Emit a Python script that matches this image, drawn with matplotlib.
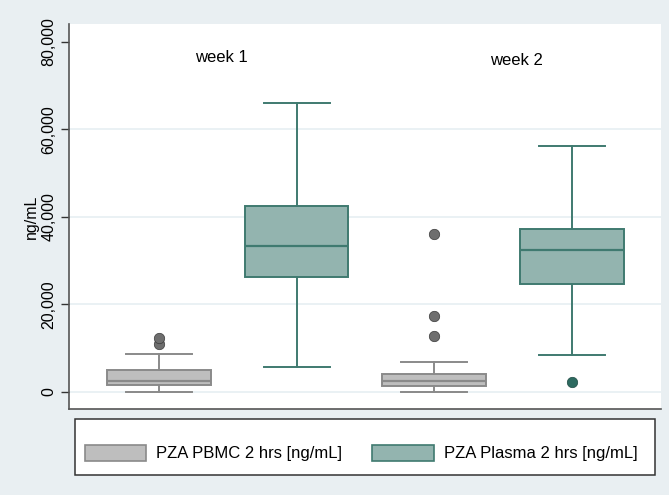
import matplotlib
matplotlib.use("Agg")
import matplotlib.pyplot as plt
from matplotlib.patches import Patch, Rectangle

plt.rcParams['font.family'] = ['Liberation Sans', 'DejaVu Sans']

# Data (ng/mL)
groups = ["week 1", "week 2"]
series = ["PZA PBMC 2 hrs [ng/mL]", "PZA Plasma 2 hrs [ng/mL]"]
# order: week1 PBMC, week1 Plasma, week2 PBMC, week2 Plasma
whislo = [0, 5570, 0, 8320]
q1 = [1450, 26300, 1400, 24550]
med = [2450, 33300, 2500, 32400]
q3 = [5050, 42450, 4050, 37260]
whishi = [8650, 65900, 6800, 56230]
fliers = [[10800, 12350], [], [12800, 17400, 35970], [2220]]
y_ticks = [0, 20000, 40000, 60000, 80000]
y_ticklabels = ["0", "20,000", "40,000", "60,000", "80,000"]

bg = "#E9EFF2"
pbmc_fill, pbmc_edge = "#BEBEBE", "#8A8A8A"
plas_fill, plas_edge = "#93B4AF", "#3F7A70"
pbmc_out, plas_out = "#6E6E6E", "#2D6A60"

fig = plt.figure(figsize=(6.69, 4.95), dpi=100)
fig.patch.set_facecolor(bg)
ax = fig.add_axes([69 / 669, 1 - 409 / 495, (661 - 69) / 669, (409 - 24) / 495])
ax.set_facecolor("white")

positions = [1, 2, 3, 4]
stats = []
for i in range(4):
    stats.append(dict(whislo=whislo[i], q1=q1[i], med=med[i], q3=q3[i],
                      whishi=whishi[i], fliers=fliers[i]))

for i, st in enumerate(stats):
    is_plasma = (i % 2 == 1)
    fc = plas_fill if is_plasma else pbmc_fill
    ec = plas_edge if is_plasma else pbmc_edge
    oc = plas_out if is_plasma else pbmc_out
    ax.bxp([st], positions=[positions[i]], widths=0.755, patch_artist=True,
           showfliers=True,
           boxprops=dict(facecolor=fc, edgecolor=ec, linewidth=1.4),
           medianprops=dict(color=ec, linewidth=1.6),
           whiskerprops=dict(color=ec, linewidth=1.4),
           capprops=dict(color=ec, linewidth=1.4),
           capwidths=0.48,
           flierprops=dict(marker='o', markerfacecolor=oc,
                           markeredgecolor="#1E4A43" if is_plasma else "#3A3A3A",
                           markeredgewidth=0.5, markersize=7.5, linestyle='none'))

ax.set_xlim(0.345, 4.65)
ax.set_ylim(-3950, 84050)
ax.set_xticks([])
ax.set_yticks(y_ticks)
ax.set_yticklabels(y_ticklabels, rotation=90, va='center', fontsize=11.5)
ax.tick_params(axis='y', length=6, width=1, color="#333333", pad=3)
for y in y_ticks[:-1]:
    ax.axhline(y, color="#E6EFF2", linewidth=1.2, zorder=0)
ax.set_ylabel("ng/mL", fontsize=11.5, labelpad=2)

for s in ["top", "right"]:
    ax.spines[s].set_visible(False)
for s in ["left", "bottom"]:
    ax.spines[s].set_color("#555555")
    ax.spines[s].set_linewidth(1.2)

ax.text(1.45, 76300, groups[0], ha='center', va='center', fontsize=12)
ax.text(3.6, 75800, groups[1], ha='center', va='center', fontsize=12)

# Legend frame
fig.patches.append(Rectangle((75 / 669, 1 - 475 / 495), (655 - 75) / 669, (475 - 419) / 495,
                             transform=fig.transFigure, facecolor="white",
                             edgecolor="#333333", linewidth=1.1, zorder=1))
handles = [Patch(facecolor=pbmc_fill, edgecolor=pbmc_edge, linewidth=1.2, label=series[0]),
           Patch(facecolor=plas_fill, edgecolor=plas_edge, linewidth=1.2, label=series[1])]
leg = fig.legend(handles=handles, loc='center', bbox_to_anchor=(361 / 669, 1 - 453 / 495),
                 ncol=2, frameon=False, fontsize=12, handlelength=3.7, handleheight=1.1,
                 handletextpad=0.6, columnspacing=1.8, borderpad=0)
leg.set_zorder(2)

fig.savefig("out.png", dpi=100, facecolor=fig.get_facecolor())
